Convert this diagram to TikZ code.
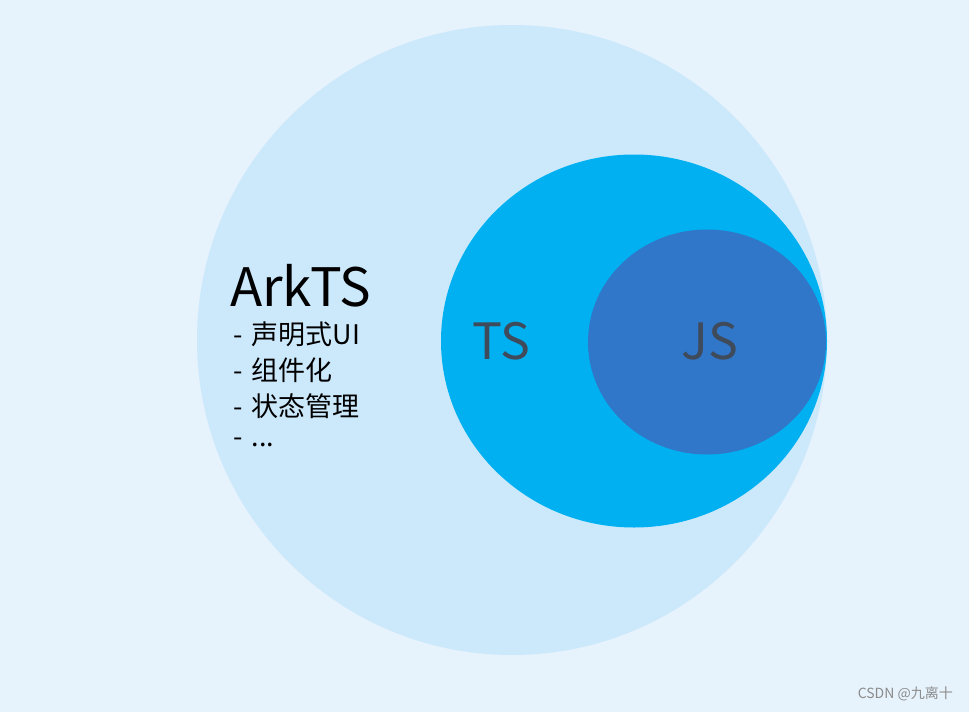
\documentclass[tikz,border=0pt]{standalone}
\usepackage{fontspec}
\setmainfont{Noto Sans CJK SC}
\usetikzlibrary{shapes.geometric}
\definecolor{pagebg}{HTML}{E6F2FC}
\definecolor{arkfill}{HTML}{CCE9FC}
\definecolor{tsfill}{HTML}{00B0F0}
\definecolor{jsfill}{HTML}{3077C9}
\definecolor{labelgrey}{HTML}{3F4A5A}
\newcommand{\dashitem}[1]{-\hspace{9pt}#1}

\begin{document}
\begin{tikzpicture}[x=1pt, y=-1pt,
      blob/.style={ellipse, inner sep=0pt, draw=none},
      langlabel/.style={font=\fontsize{50}{56}\selectfont, text=labelgrey},
      item/.style={anchor=west, inner sep=0pt, font=\fontsize{27}{30}\selectfont}
    ]
    % Background and page size
    \useasboundingbox[fill=pagebg] (0,0) rectangle (969,712);

    % Nested sets: ArkTS > TS > JS
    \node[blob, fill=arkfill, minimum width=630pt, minimum height=630pt] (ark) at (512,340) {};
    \node[blob, fill=tsfill, minimum width=386pt, minimum height=373pt] (ts) at (634,341) {};
    \node[blob, fill=jsfill, minimum width=238pt, minimum height=225pt] (js) at (707,342) {};

    % Labels
    \node[langlabel] (tslabel) at (501,341) {TS};
    \node[langlabel] (jslabel) at (710,341) {JS};

    % ArkTS title and feature list
    \node[anchor=west, inner sep=0pt, font=\fontsize{53}{58}\selectfont] (arktitle) at (230,286) {ArkTS};
    \node[item] (item1) at (233,334) {\dashitem{声明式UI}};
    \node[item] (item2) at (233,370) {\dashitem{组件化}};
    \node[item] (item3) at (233,406) {\dashitem{状态管理}};
    \node[item] (item4) at (233,442) {\dashitem{...}};

    % Watermark
    \node[anchor=east, inner sep=0pt, font=\fontsize{14}{16}\selectfont, text=black!45] (mark) at (953,694) {CSDN @九离十};
  \end{tikzpicture}
\end{document}
